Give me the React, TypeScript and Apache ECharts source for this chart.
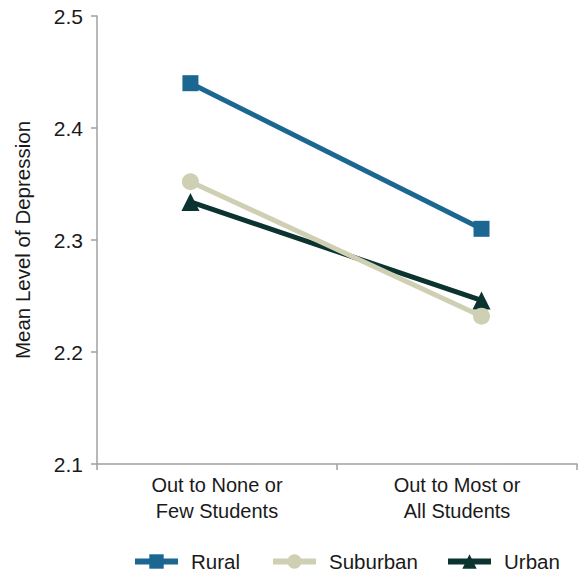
import React, { useEffect, useRef } from "react";
import * as echarts from "echarts";

const categories = ["Out to None or\nFew Students", "Out to Most or\nAll Students"];
const seriesNames = ["Rural", "Suburban", "Urban"];
const rural = [2.44, 2.31];
const suburban = [2.352, 2.232];
const urban = [2.334, 2.246];
const yTicks = { min: 2.1, max: 2.5, interval: 0.1 };

const FONT = "Liberation Sans, Arial, sans-serif";

export default function App() {
  const ref = useRef<HTMLDivElement>(null);
  useEffect(() => {
    if (!ref.current) return;
    const chart = echarts.init(ref.current, undefined, { renderer: "svg" });
    const toPts = (arr: number[]) => arr.map((v, i) => [i, v]);
    const colors = ["#1b6792", "#cfcfb4", "#0b332f"];
    const symbols = ["rect", "circle", "triangle"];
    const sizes = [16, 17, 18];
    const legendLefts = [132, 270, 445];
    const data = [rural, suburban, urban];
    chart.setOption({
      animation: false,
      textStyle: { fontFamily: FONT },
      grid: { left: 97, right: 2, top: 16, bottom: 112, containLabel: false, outerBoundsMode: "none" },
      legend: seriesNames.map((name, k) => ({
        left: legendLefts[k],
        top: 551,
        padding: 0,
        itemWidth: 43,
        itemHeight: 18,
        lineStyle: { width: 6 },
        textStyle: { fontSize: 20.5, color: "#1a1a1a", fontFamily: FONT, padding: [0, 0, 0, 8] },
        data: [name],
      })),
      xAxis: [
        {
          type: "category",
          data: categories,
          boundaryGap: true,
          axisLine: { lineStyle: { color: "#a0a0a0", width: 1.5 } },
          axisTick: { show: true, length: 6, lineStyle: { color: "#a0a0a0", width: 1.5 } },
          axisLabel: { fontSize: 20, color: "#1a1a1a", lineHeight: 26, margin: 8, fontFamily: FONT },
          splitLine: { show: false },
        },
        {
          type: "value",
          show: false,
          min: -0.321,
          max: 1.328,
          splitLine: { show: false },
        },
      ],
      yAxis: {
        type: "value",
        min: yTicks.min,
        max: yTicks.max,
        interval: yTicks.interval,
        name: "Mean Level of Depression",
        nameLocation: "middle",
        nameRotate: 90,
        nameGap: 64,
        nameTextStyle: { fontSize: 20.5, color: "#1a1a1a", fontFamily: FONT },
        axisLine: { show: true, onZero: false, lineStyle: { color: "#a0a0a0", width: 1.5 } },
        axisTick: { show: true, length: 6, lineStyle: { color: "#a0a0a0", width: 1.5 } },
        axisLabel: { fontSize: 21, color: "#1a1a1a", margin: 14, fontFamily: FONT, formatter: (v: number) => v.toFixed(1) },
        splitLine: { show: false },
      },
      series: seriesNames.map((name, k) => ({
        name,
        type: "line",
        xAxisIndex: 1,
        data: toPts(data[k]),
        symbol: symbols[k],
        symbolSize: sizes[k],
        showAllSymbol: true,
        lineStyle: { color: colors[k], width: 5 },
        itemStyle: { color: colors[k] },
        z: 3 - k + 2,
      })),
    });
    return () => chart.dispose();
  }, []);
  return <div ref={ref} style={{ width: 579, height: 576, position: "absolute", left: 0, top: 0 }} />;
}
